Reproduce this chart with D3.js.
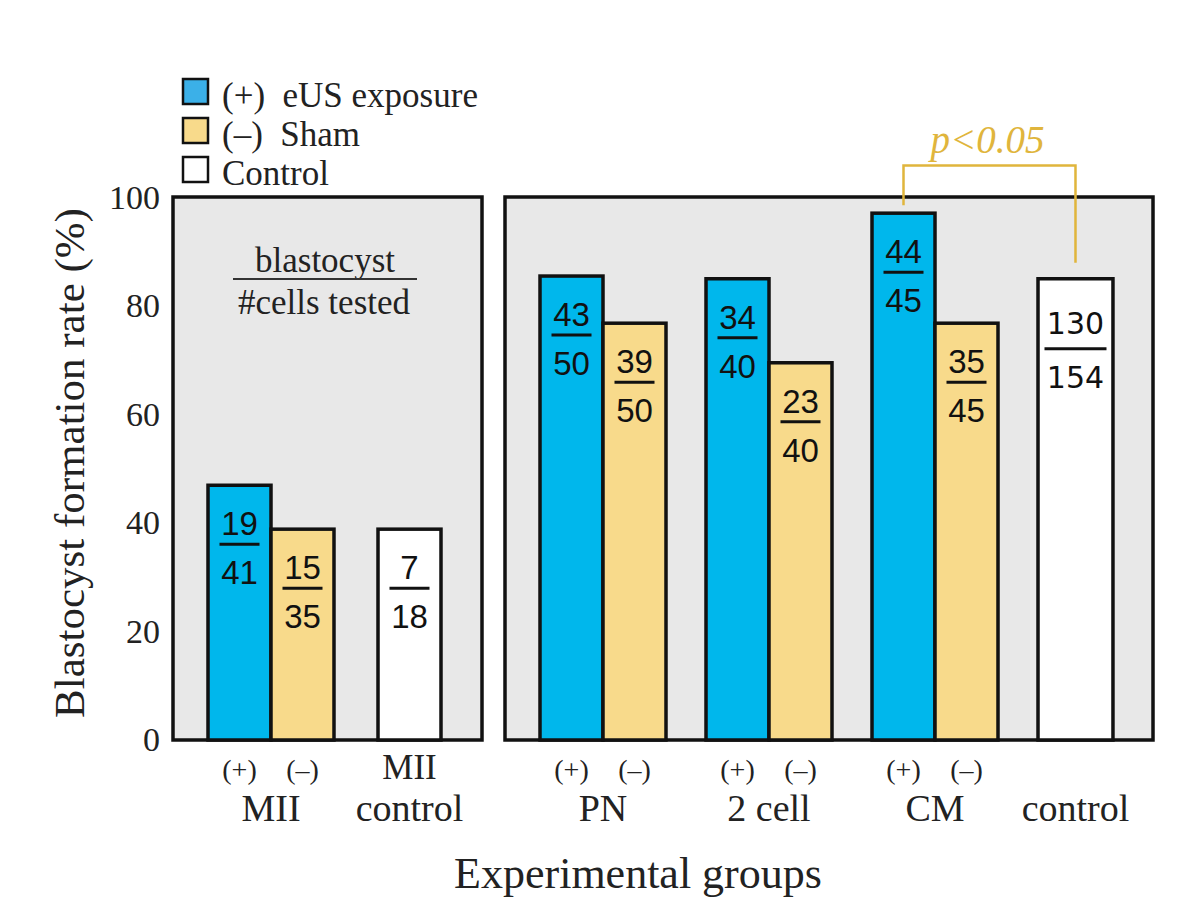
<!DOCTYPE html>
<html><head><meta charset="utf-8">
<script src="https://cdn.jsdelivr.net/npm/d3@7"></script>
<style>body{margin:0;background:#fff} text{white-space:pre}</style>
</head><body>
<svg id="c" width="1203" height="910"></svg>
<script>
// ---- data ----
const groups = ["MII", "MII control", "PN", "2 cell", "CM", "control"];
const barGroup = ["MII", "MII", "MII control", "PN", "PN", "2 cell", "2 cell", "CM", "CM", "control"];
const barType = ["+", "-", "c", "+", "-", "+", "-", "+", "-", "c"];
const barValue = [47.0, 38.9, 38.9, 85.6, 76.9, 85.1, 69.6, 97.2, 76.9, 85.1];
const numerators = [19, 15, 7, 43, 39, 34, 23, 44, 35, 130];
const denominators = [41, 35, 18, 50, 50, 40, 40, 45, 45, 154];
const yTicks = [0, 20, 40, 60, 80, 100];
const subLabels = {"+": "(+)", "-": "(\u2013)"};
const legendLabels = ["(+)  eUS exposure", "(\u2013)  Sham", "Control"];
const pText = "p<0.05";

const colors = {"+": "#00b7ec", "-": "#f8da8b", "c": "#ffffff"};
const legendColors = ["#3bb0e8", "#f8da8b", "#ffffff"];
const gold = "#e0b53c";
const serif = "'Liberation Serif','DejaVu Serif',serif";
const sans = "'Liberation Sans',Arial,sans-serif";

const svg = d3.select("#c");
const y = d3.scaleLinear().domain([0, 100]).range([740, 198]);
const x = d3.scaleBand().domain(groups).range([208, 1164]).paddingInner(0.241).paddingOuter(0);
const xs = d3.scaleBand().domain(["+", "-"]).range([0, x.bandwidth()]);

const bars = barValue.map((v, i) => {
  const g = barGroup[i], t = barType[i];
  let x0, w;
  if (t === "c") {
    w = g === "control" ? xs.bandwidth() * 1.19 : xs.bandwidth();
    x0 = x(g) + (g === "control" ? 0 : 4);
  } else {
    w = xs.bandwidth(); x0 = x(g) + xs(t);
  }
  return {g, t, v, x0, w, num: numerators[i], den: denominators[i]};
});

// panels
const panels = [
  [x("MII") - 35, x("MII control") + 108],
  [x("PN") - 35, x("control") + 115]
];
svg.selectAll("rect.panel").data(panels).join("rect")
  .attr("x", d => d[0]).attr("y", y(100) - 1)
  .attr("width", d => d[1] - d[0]).attr("height", y(0) - y(100) + 1)
  .attr("fill", "#e8e8e8").attr("stroke", "#111").attr("stroke-width", 3.5);

// bars
svg.selectAll("rect.bar").data(bars).join("rect")
  .attr("x", d => d.x0).attr("y", d => y(d.v))
  .attr("width", d => d.w).attr("height", d => y(0) - y(d.v))
  .attr("fill", d => colors[d.t]).attr("stroke", "#111").attr("stroke-width", 3.5);

// fraction labels
bars.forEach(d => {
  const cx = d.x0 + d.w / 2;
  const top = y(d.v);
  const big = String(d.den).length > 2;
  const o = big ? {n: 55, l: 70, dn: 109} : {n: 50, l: 59, dn: 99};
  const lw = big ? 62 : 40;
  const font = big ? "'DejaVu Sans',sans-serif" : sans;
  const fs = big ? 30 : 33;
  svg.append("text").attr("x", cx).attr("y", top + o.n).attr("text-anchor", "middle")
    .attr("font-family", font).attr("font-size", fs).attr("fill", "#111").text(d.num);
  svg.append("line").attr("x1", cx - lw / 2).attr("x2", cx + lw / 2)
    .attr("y1", top + o.l).attr("y2", top + o.l).attr("stroke", "#111").attr("stroke-width", 3);
  svg.append("text").attr("x", cx).attr("y", top + o.dn).attr("text-anchor", "middle")
    .attr("font-family", font).attr("font-size", fs).attr("fill", "#111").text(d.den);
});

// y axis tick labels
svg.selectAll("text.yt").data(yTicks).join("text")
  .attr("x", 160).attr("y", d => y(d) + 11).attr("text-anchor", "end")
  .attr("font-family", serif).attr("font-size", 34).attr("fill", "#222").text(d => d);

// y title
svg.append("text").attr("transform", "translate(84,463) rotate(-90)")
  .attr("text-anchor", "middle").attr("font-family", serif).attr("font-size", 43)
  .attr("fill", "#222").text("Blastocyst formation rate (%)");

// x sub labels
bars.filter(d => d.t !== "c").forEach(d => {
  svg.append("text").attr("x", d.x0 + d.w / 2).attr("y", 779).attr("text-anchor", "middle")
    .attr("font-family", serif).attr("font-size", 28).attr("fill", "#222").text(subLabels[d.t]);
});
// group labels
groups.forEach(g => {
  const gb = bars.filter(b => b.g === g);
  const cx = (d3.min(gb, b => b.x0) + d3.max(gb, b => b.x0 + b.w)) / 2;
  const lines = g === "MII control" ? ["MII", "control"] : [g];
  if (lines.length === 2) {
    svg.append("text").attr("x", cx).attr("y", 779).attr("text-anchor", "middle")
      .attr("font-family", serif).attr("font-size", 35).attr("fill", "#222").text(lines[0]);
  }
  svg.append("text").attr("x", cx).attr("y", 821).attr("text-anchor", "middle")
    .attr("font-family", serif).attr("font-size", 38).attr("fill", "#222").text(lines[lines.length - 1]);
});

// x title
svg.append("text").attr("x", 638).attr("y", 888).attr("text-anchor", "middle")
  .attr("font-family", serif).attr("font-size", 44).attr("fill", "#222").text("Experimental groups");

// legend
legendLabels.forEach((t, i) => {
  const ly = 79 + i * 39;
  svg.append("rect").attr("x", 183).attr("y", ly).attr("width", 25).attr("height", 25)
    .attr("fill", legendColors[i]).attr("stroke", "#111").attr("stroke-width", 2.5);
  svg.append("text").attr("x", 222).attr("y", ly + 28).attr("font-family", serif)
    .attr("font-size", 35).attr("fill", "#222").text(t);
});

// inner key
svg.append("text").attr("x", 325).attr("y", 272).attr("text-anchor", "middle")
  .attr("font-family", serif).attr("font-size", 35).attr("fill", "#222").text("blastocyst");
svg.append("line").attr("x1", 233).attr("x2", 417).attr("y1", 279).attr("y2", 279)
  .attr("stroke", "#333").attr("stroke-width", 2);
svg.append("text").attr("x", 324).attr("y", 314).attr("text-anchor", "middle")
  .attr("font-family", serif).attr("font-size", 35).attr("fill", "#222").text("#cells tested");

// significance bracket
const cm = bars[7], ct = bars[9];
const bx1 = cm.x0 + cm.w / 2, bx2 = ct.x0 + ct.w / 2;
svg.append("path")
  .attr("d", d3.line()([[bx1, y(cm.v) - 8], [bx1, y(106)], [bx2, y(106)], [bx2, y(ct.v) - 16]]))
  .attr("fill", "none").attr("stroke", gold).attr("stroke-width", 2.5);
svg.append("text").attr("x", (bx1 + bx2) / 2 - 2).attr("y", 153).attr("text-anchor", "middle")
  .attr("font-family", serif).attr("font-style", "italic").attr("font-size", 39)
  .attr("fill", gold).text(pText);
</script>
</body></html>
